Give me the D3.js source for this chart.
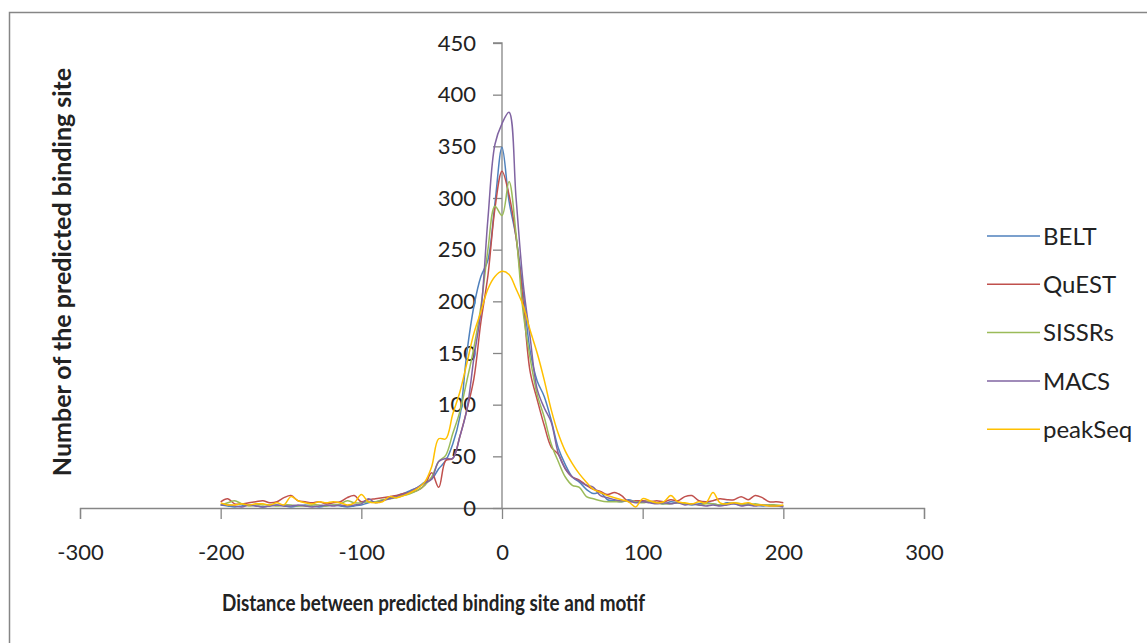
<!DOCTYPE html>
<html>
<head>
<meta charset="utf-8">
<script src="https://cdn.jsdelivr.net/npm/d3@7"></script>
<style>
  html, body { margin: 0; padding: 0; background: #fff; }
  svg { display: block; }
  text { font-family: Lato, "Liberation Sans", sans-serif; fill: #222; }
</style>
</head>
<body>
<svg id="chart" width="1147" height="643"></svg>
<script>
// ---- data ----
const distances = d3.range(-200, 201, 5);

const belt = [
  3,2,1,2,3,2,1,2,3,2,
  1,2,3,2,1,2,3,2,1,2,
  3,5,6,7,10,12,14,17,20,25,
  28,38,46,62,88,150,195,224,240,295,
  349,297,262,210,152,123,108,85,58,42,
  30,25,18,14,15,8,7,6,8,6,
  7,6,5,4,6,5,4,3,4,5,
  4,3,5,4,3,4,3,2,3,2,
  2
];
const quest = [
  6,9,4,4,5,6,7,5,6,10,
  12,7,6,5,6,4,5,6,10,12,
  6,8,9,10,11,12,14,15,17,22,
  34,20,46,48,69,95,125,180,225,290,
  326,303,262,200,132,105,80,59,52,38,
  30,27,22,18,16,13,15,12,6,7,
  7,6,7,6,8,7,11,12,7,6,
  7,9,8,8,11,8,12,10,6,6,
  5
];
const sissrs = [
  3,5,7,4,2,3,3,3,2,3,
  3,2,2,3,3,2,3,4,7,5,
  5,6,6,8,9,10,12,14,17,22,
  30,45,51,72,93,123,155,195,250,292,
  283,316,265,190,145,110,88,62,45,30,
  22,20,11,9,7,6,6,6,7,6,
  5,6,5,4,4,5,4,4,3,4,
  4,3,4,5,4,3,4,3,3,3,
  2
];
const macs = [
  3,3,2,1,3,2,1,2,3,2,
  2,3,2,1,2,3,2,3,2,3,
  4,9,5,7,9,11,13,16,20,24,
  28,45,48,48,69,95,145,190,280,352,
  372,383,300,218,165,115,97,83,53,38,
  30,26,22,20,12,10,8,7,7,5,
  6,5,4,5,4,5,3,4,3,2,
  3,2,3,4,2,3,2,3,2,2,
  1
];
const peakseq = [
  5,3,3,4,3,4,4,3,5,3,
  11,7,5,4,6,5,6,5,3,5,
  13,6,5,6,11,10,12,15,19,25,
  40,67,67,91,112,140,169,190,212,224,
  229,226,212,196,172,150,124,95,72,55,
  43,33,25,18,15,12,10,8,6,1,
  9,7,5,6,12,6,5,4,6,5,
  15,5,4,5,4,5,3,3,2,2,
  3
];

const seriesNames = ["BELT", "QuEST", "SISSRs", "MACS", "peakSeq"];
const seriesValues = [belt, quest, sissrs, macs, peakseq];
const seriesColors = ["#4F81BD", "#C0504D", "#9BBB59", "#8064A2", "#FFC000"];

const xTicks = [-300, -200, -100, 0, 100, 200, 300];
const yTicks = [0, 50, 100, 150, 200, 250, 300, 350, 400, 450];

const xTitle = "Distance between predicted binding site and motif";
const yTitle = "Number of the predicted binding site";

// ---- drawing ----
const svg = d3.select("#chart");
const axisColor = "#868686";
const fontStack = "Lato, 'Liberation Sans', sans-serif";

// outer chart border
svg.append("rect")
  .attr("x", 9.5).attr("y", 12.5)
  .attr("width", 1160).attr("height", 660)
  .attr("fill", "none").attr("stroke", axisColor).attr("stroke-width", 1.5);

const x = d3.scaleLinear().domain([-300, 300]).range([80, 924]);
const y = d3.scaleLinear().domain([0, 450]).range([508, 43]);

// x axis (at y = 0)
const xAxis = svg.append("g")
  .attr("transform", `translate(0,${y(0)})`)
  .call(d3.axisBottom(x).tickValues(xTicks).tickSize(11).tickPadding(25)
        .tickFormat(d3.format("d")));
xAxis.select(".domain").attr("stroke", axisColor).attr("stroke-width", 1.3);
xAxis.selectAll(".tick line").attr("stroke", axisColor).attr("stroke-width", 1.3);
xAxis.selectAll(".tick text")
  .style("font-family", fontStack)
  .style("font-size", "22px").attr("fill", "#222")
  .text(d => d < 0 ? "-" + Math.abs(d) : d);

// y axis (at x = 0)
const yAxis = svg.append("g")
  .attr("transform", `translate(${x(0)},0)`)
  .call(d3.axisLeft(y).tickValues(yTicks).tickSize(9).tickPadding(17)
        .tickFormat(d3.format("d")));
yAxis.select(".domain").attr("stroke", axisColor).attr("stroke-width", 1.3)
  .attr("d", `M-9,${y(450)}H0V${y(0)}`);
yAxis.selectAll(".tick line").attr("stroke", axisColor).attr("stroke-width", 1.3);
yAxis.selectAll(".tick text")
  .style("font-family", fontStack)
  .style("font-size", "22px").attr("fill", "#222");

// series lines
const line = d3.line()
  .x((d, i) => x(distances[i]))
  .y(d => y(d))
  .curve(d3.curveCatmullRom.alpha(0.5));

seriesValues.forEach((vals, k) => {
  svg.append("path")
    .datum(vals)
    .attr("d", line)
    .attr("fill", "none")
    .attr("stroke", seriesColors[k])
    .attr("stroke-width", 1.5)
    .attr("stroke-linejoin", "round");
});

// axis titles
svg.append("text")
  .attr("x", 222).attr("y", 611)
  .attr("textLength", 423)
  .attr("lengthAdjust", "spacingAndGlyphs")
  .style("font-size", "22px").style("font-weight", "bold")
  .text(xTitle);

svg.append("text")
  .attr("transform", `translate(71,272) rotate(-90)`)
  .attr("text-anchor", "middle")
  .style("font-size", "25px").style("font-weight", "bold")
  .text(yTitle);

// legend
const legend = svg.append("g");
seriesNames.forEach((name, k) => {
  const ly = 236 + k * 48.3;
  legend.append("line")
    .attr("x1", 987).attr("x2", 1040)
    .attr("y1", ly).attr("y2", ly)
    .attr("stroke", seriesColors[k]).attr("stroke-width", 1.5);
  legend.append("text")
    .attr("x", 1043).attr("y", ly)
    .attr("dy", "0.36em")
    .style("font-size", "24px")
    .text(name);
});
</script>
</body>
</html>
